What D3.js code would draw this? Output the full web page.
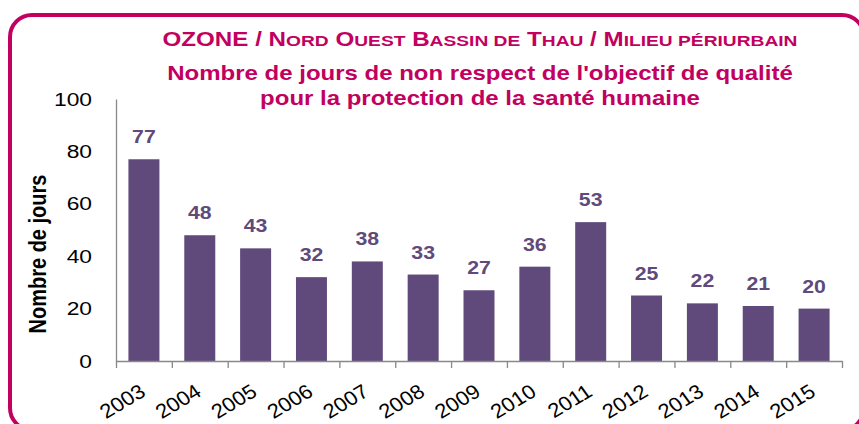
<!DOCTYPE html>
<html>
<head>
<meta charset="utf-8">
<script src="https://cdn.jsdelivr.net/npm/d3@7"></script>
<style>
  html, body { margin: 0; padding: 0; background: #fff; }
  svg text { font-family: "Liberation Sans", Arial, sans-serif; }
</style>
</head>
<body>
<div id="chart"></div>
<script>
// data
const years = ["2003", "2004", "2005", "2006", "2007", "2008", "2009", "2010", "2011", "2012", "2013", "2014", "2015"];
const jours = [77, 48, 43, 32, 38, 33, 27, 36, 53, 25, 22, 21, 20];
const yTicks = [0, 20, 40, 60, 80, 100];

const titleColor = "#C2005F";
const barColor = "#604A7B";
const axisColor = "#898989";
// the original picture is stretched sideways, so text is widened too
const sx = 1.2;

const W = 859, H = 424;
const margin = {top: 99, right: 17, bottom: 63, left: 116};

const svg = d3.select("#chart")
  .append("svg")
    .attr("width", W)
    .attr("height", H);

// rounded frame
svg.append("rect")
  .attr("x", 10).attr("y", 15)
  .attr("width", 854).attr("height", 415)
  .attr("rx", 22).attr("ry", 22)
  .attr("fill", "none")
  .attr("stroke", titleColor)
  .attr("stroke-width", 4);

const x = d3.scaleBand()
  .domain(years)
  .range([margin.left, W - margin.right])
  .paddingInner(0.445)
  .paddingOuter(0.2225);

const y = d3.scaleLinear()
  .domain([0, 100])
  .range([H - margin.bottom, margin.top]);

// bars
svg.append("g")
  .selectAll("rect")
  .data(jours)
  .join("rect")
    .attr("x", (d, i) => x(years[i]))
    .attr("y", d => y(d))
    .attr("width", x.bandwidth())
    .attr("height", d => y(0) - y(d))
    .attr("fill", barColor);

// value labels
svg.append("g")
  .selectAll("text")
  .data(jours)
  .join("text")
    .attr("transform", (d, i) => "translate(" + (x(years[i]) + x.bandwidth() / 2) + "," + (y(d) - 16) + ") scale(1.12,1)")
    .attr("text-anchor", "middle")
    .attr("font-size", 19)
    .attr("font-weight", "bold")
    .attr("fill", barColor)
    .text(d => d);

// y axis
const yAxis = svg.append("g")
  .attr("transform", "translate(" + margin.left + ",0)")
  .call(d3.axisLeft(y).tickValues(yTicks).tickSize(0).tickPadding(24));
yAxis.select(".domain").attr("stroke", axisColor).attr("stroke-width", 1.3);
yAxis.selectAll("text")
  .attr("x", 0)
  .attr("transform", "translate(-24,0) scale(" + sx + ",1)")
  .attr("font-size", 19)
  .attr("font-family", "Liberation Sans, Arial, sans-serif")
  .attr("fill", "#000");

// x axis: ticks sit between categories
const edges = d3.scaleLinear().domain([0, years.length]).range(x.range());
const xAxis = svg.append("g")
  .attr("transform", "translate(0," + y(0) + ")")
  .call(d3.axisBottom(edges).tickValues(d3.range(years.length + 1)).tickFormat("").tickSizeInner(7).tickSizeOuter(0));
xAxis.select(".domain").attr("stroke", axisColor).attr("stroke-width", 1.3);
xAxis.selectAll(".tick line").attr("stroke", axisColor).attr("stroke-width", 1.3);

svg.append("g")
  .selectAll("text")
  .data(years)
  .join("text")
    .attr("transform", d => "translate(" + (x(d) + x.bandwidth() / 2 + 3) + "," + (y(0) + 34) + ") scale(1.1,1) rotate(-33)")
    .attr("text-anchor", "end")
    .attr("font-size", 20)
    .attr("fill", "#000")
    .text(d => d);

// y axis title
svg.append("text")
  .attr("transform", "translate(46,254) scale(" + sx + ",1) rotate(-90)")
  .attr("text-anchor", "middle")
  .attr("font-size", 20)
  .attr("font-weight", "bold")
  .attr("fill", "#000")
  .text("Nombre de jours");

// titles
const cx = 480;
const t1 = svg.append("text")
  .attr("transform", "translate(" + cx + ",46) scale(1.24,1)")
  .attr("text-anchor", "middle")
  .attr("font-weight", "bold")
  .attr("font-size", 19)
  .attr("fill", titleColor);
const parts = [
  ["OZONE / N", false], ["ORD", true], [" O", false], ["UEST", true],
  [" B", false], ["ASSIN DE", true], [" T", false], ["HAU", true],
  [" / M", false], ["ILIEU PÉRIURBAIN", true]
];
parts.forEach(p => {
  t1.append("tspan")
    .attr("font-size", p[1] ? 15.5 : 19.5)
    .text(p[0]);
});

svg.append("text")
  .attr("transform", "translate(" + cx + ",80) scale(" + sx + ",1)")
  .attr("text-anchor", "middle")
  .attr("font-weight", "bold")
  .attr("font-size", 20)
  .attr("fill", titleColor)
  .text("Nombre de jours de non respect de l'objectif de qualité");

svg.append("text")
  .attr("transform", "translate(" + cx + ",105) scale(" + sx + ",1)")
  .attr("text-anchor", "middle")
  .attr("font-weight", "bold")
  .attr("font-size", 20)
  .attr("fill", titleColor)
  .text("pour la protection de la santé humaine");
</script>
</body>
</html>
